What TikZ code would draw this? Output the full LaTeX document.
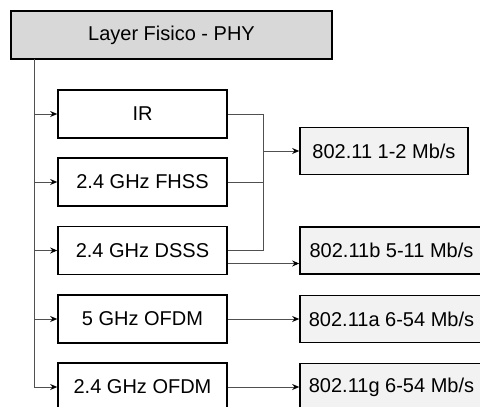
\documentclass[tikz,border=0pt]{standalone}
\usepackage{fontspec}
\setmainfont{Liberation Sans}
\usetikzlibrary{arrows.meta}
\definecolor{topfill}{HTML}{D8D8D8}
\definecolor{rfill}{HTML}{F2F2F2}
\definecolor{conncol}{HTML}{505050}
\begin{document}
\begin{tikzpicture}[x=1pt,y=-1pt,
  box/.style={draw=black,line width=1.6pt,rectangle,inner sep=0pt,
    font=\fontsize{20}{24}\selectfont,text=black},
  lbox/.style={box,minimum width=169pt,minimum height=48pt,fill=white},
  rbox/.style={box,minimum height=47pt,fill=rfill},
  conn/.style={draw=conncol,line width=0.9pt},
  arr/.style={conn,-{Stealth[length=7pt,width=6pt,black]}}]
\useasboundingbox (0,0) rectangle (480,407);
\fill[white] (0,0) rectangle (480,407);
\node[box,fill=topfill,minimum width=321pt,minimum height=48pt] (top) at (171.5,35) {Layer Fisico - PHY};
\node[lbox] (ir) at (142.5,114) {IR};
\node[lbox] (fhss) at (142.5,182) {2.4 GHz FHSS};
\node[lbox] (dsss) at (142.5,250.5) {2.4 GHz DSSS};
\node[lbox] (ofdm5) at (142.5,319) {5 GHz OFDM};
\node[lbox] (ofdm24) at (142.5,387) {2.4 GHz OFDM};
\node[rbox,minimum width=168pt] (r12) at (384,151) {802.11 1-2 Mb/s};
\node[rbox,minimum width=183pt] (rb) at (391.5,250.5) {802.11b 5-11 Mb/s};
\node[rbox,minimum width=183pt] (ra) at (391.5,319) {802.11a 6-54 Mb/s};
\node[rbox,minimum width=183pt] (rg) at (391.5,387) {802.11g 6-54 Mb/s};
\coordinate (t0) at (34,59);
\coordinate (bus) at (263,151);
\draw[conn] (t0) -- (t0 |- ofdm24.west);
\foreach \n in {ir,fhss,dsss,ofdm5,ofdm24}
  \draw[arr] (t0 |- \n.west) -- (\n.west);
\draw[conn] (ir.east) -| (bus);
\draw[conn] (fhss.east) -| (bus);
\draw[conn] (dsss.east) -| (bus);
\draw[arr] (bus) -- (r12.west);
\draw[arr] ([yshift=-13pt]dsss.east) -- ([yshift=-13pt]rb.west);
\draw[arr] (ofdm5.east) -- (ra.west);
\draw[arr] (ofdm24.east) -- (rg.west);
\end{tikzpicture}
\end{document}
